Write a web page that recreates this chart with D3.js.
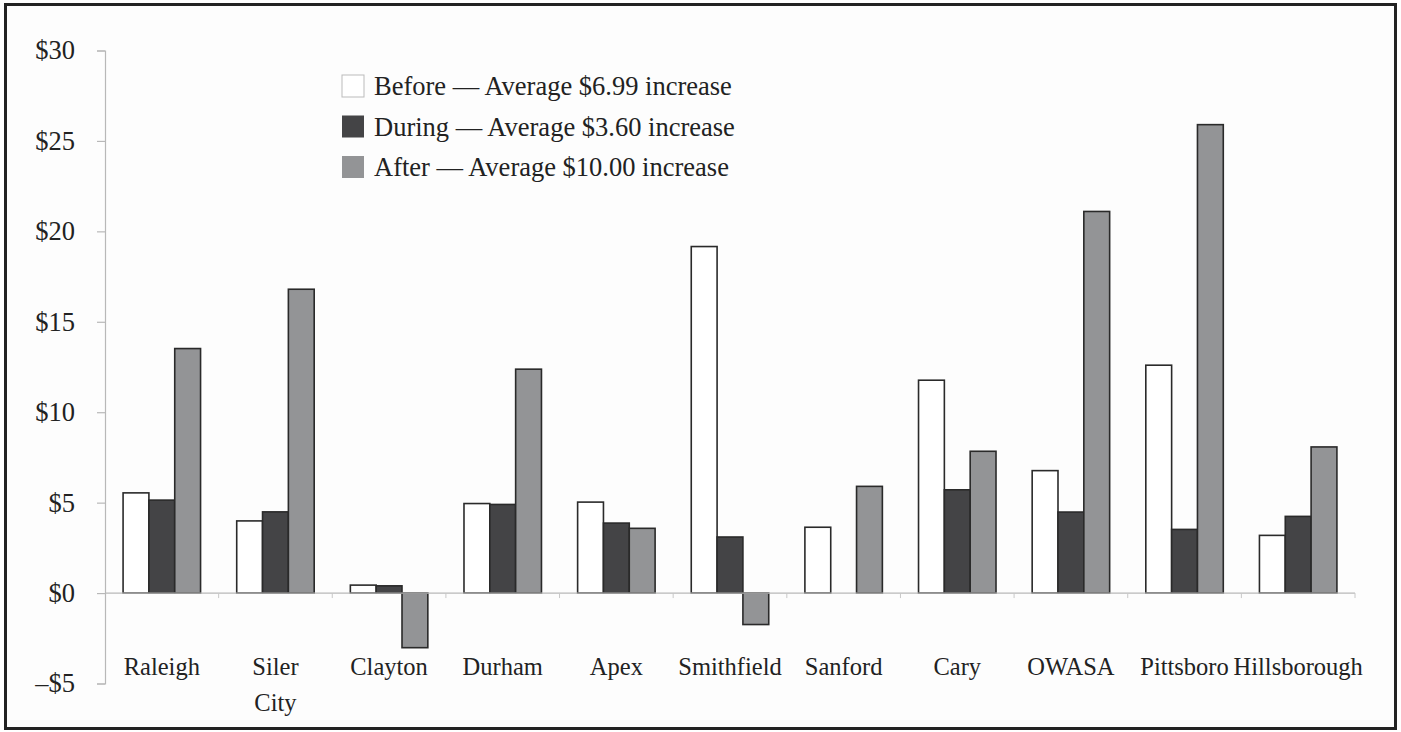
<!DOCTYPE html>
<html>
<head>
<meta charset="utf-8">
<script src="https://cdn.jsdelivr.net/npm/d3@7"></script>
<style>
html,body{margin:0;padding:0;background:#fff}
svg{display:block}
text{font-family:"Liberation Serif","DejaVu Serif",serif;fill:#222}
</style>
</head>
<body>
<script>
// data
var cities = ["Raleigh", "Siler City", "Clayton", "Durham", "Apex", "Smithfield",
              "Sanford", "Cary", "OWASA", "Pittsboro", "Hillsborough"];
var before = [5.54, 3.99, 0.44, 4.95, 5.03, 19.16, 3.64, 11.77, 6.77, 12.6, 3.19];
var during = [5.14, 4.49, 0.40, 4.90, 3.87, 3.10, 0, 5.71, 4.48, 3.52, 4.24];
var after  = [13.52, 16.8, -3.02, 12.38, 3.58, -1.74, 5.90, 7.84, 21.1, 25.9, 8.08];
var seriesNames = ["Before — Average $6.99 increase",
                   "During — Average $3.60 increase",
                   "After — Average $10.00 increase"];
var yTicks = [-5, 0, 5, 10, 15, 20, 25, 30];

var W = 1401, H = 732;
var colors = ["#ffffff", "#444446", "#939496"];
var series = [before, during, after];

var svg = d3.select("body").append("svg").attr("width", W).attr("height", H);

// frame
svg.append("rect").attr("x", 5.5).attr("y", 4.5).attr("width", 1390).attr("height", 724)
    .attr("fill", "#fdfdfd").attr("stroke", "#222").attr("stroke-width", 3);

var x = d3.scaleBand().domain(cities).range([105, 1355]);
var sub = d3.scaleBand().domain([0, 1, 2]).range([0, x.bandwidth()]).paddingOuter(0.7).paddingInner(0);
var y = d3.scaleLinear().domain([-5, 30]).range([683.5, 50.5]);

// y axis
var yAxis = svg.append("g").attr("transform", "translate(105,0)")
    .call(d3.axisLeft(y).tickValues(yTicks).tickSize(8).tickPadding(22)
        .tickFormat(function(d){ return (d < 0 ? "\u2013$" : "$") + Math.abs(d); }));
yAxis.select(".domain").attr("stroke", "#b8b8b8").attr("stroke-width", 1.2);
yAxis.selectAll(".tick line").attr("stroke", "#b8b8b8").attr("stroke-width", 1.2);
yAxis.selectAll(".tick text").attr("font-size", 26.5).attr("fill", "#222");

// bars
var groups = svg.append("g").selectAll("g").data(cities).join("g")
    .attr("transform", function(d){ return "translate(" + x(d) + ",0)"; });
groups.selectAll("rect").data(function(d, i){ return series.map(function(s, k){ return {k: k, v: s[i]}; }); })
    .join("rect")
    .filter(function(d){ return d.v !== 0; })
    .attr("x", function(d){ return sub(d.k); })
    .attr("width", sub.bandwidth())
    .attr("y", function(d){ return y(Math.max(0, d.v)); })
    .attr("height", function(d){ return Math.abs(y(d.v) - y(0)); })
    .attr("fill", function(d){ return colors[d.k]; })
    .attr("stroke", "#2a2a2a").attr("stroke-width", 1.6);

// zero line and category ticks
var xAxis = svg.append("g").attr("transform", "translate(0," + y(0) + ")");
xAxis.append("line").attr("x1", 105).attr("x2", 1355).attr("stroke", "#b8b8b8").attr("stroke-width", 1.2);
xAxis.selectAll("line.t").data(cities.slice(1).concat(["end"])).join("line").attr("class", "t")
    .attr("x1", function(d, i){ return 105 + (i + 1) * x.step(); })
    .attr("x2", function(d, i){ return 105 + (i + 1) * x.step(); })
    .attr("y1", 0).attr("y2", 5).attr("stroke", "#c8c8c8");

// category labels
svg.append("g").selectAll("text").data(cities).join("text")
    .attr("x", function(d){ return x(d) + x.bandwidth() / 2; })
    .attr("y", 675)
    .attr("text-anchor", "middle").attr("font-size", 24.5)
    .each(function(d){
        var words = d === "Siler City" ? ["Siler", "City"] : [d];
        d3.select(this).selectAll("tspan").data(words).join("tspan")
            .attr("x", x(d) + x.bandwidth() / 2)
            .attr("dy", function(w, j){ return j ? 36 : 0; })
            .text(function(w){ return w; });
    });

// legend
var leg = svg.append("g").selectAll("g").data(seriesNames).join("g")
    .attr("transform", function(d, i){ return "translate(342," + (75 + i * 40.5) + ")"; });
leg.append("rect").attr("width", 22).attr("height", 22)
    .attr("fill", function(d, i){ return colors[i]; })
    .attr("stroke", function(d, i){ return i === 0 ? "#bbb" : "none"; });
leg.append("text").attr("x", 32).attr("y", 20).attr("font-size", 26.5).text(function(d){ return d; });
</script>
</body>
</html>
